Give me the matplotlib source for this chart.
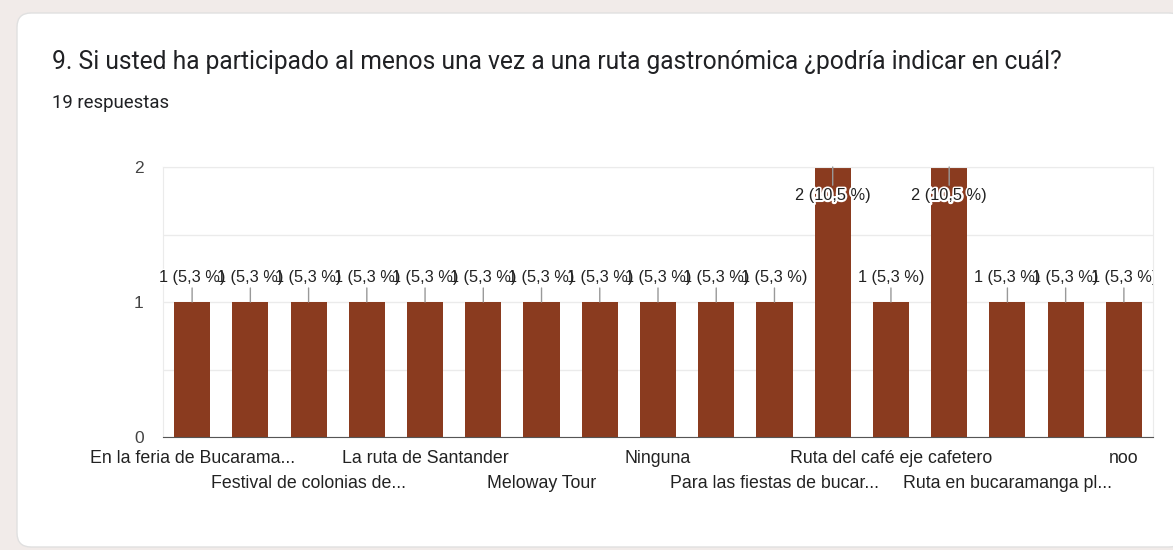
import matplotlib
matplotlib.use('Agg')
import matplotlib.pyplot as plt
import matplotlib.patheffects as pe
from matplotlib.patches import FancyBboxPatch, Rectangle

titulo = '9. Si usted ha participado al menos una vez a una ruta gastronómica ¿podría indicar en cuál?'
respuestas = 19
# solo se ven las etiquetas alternas, las demas quedan ocultas en el grafico
rutas = ['En la feria de Bucarama...', '', 'Festival de colonias de...', '',
         'La ruta de Santander', '', 'Meloway Tour', '', 'Ninguna', '',
         'Para las fiestas de bucar...', '', 'Ruta del café eje cafetero', '',
         'Ruta en bucaramanga pl...', '', 'noo']
conteo = [1, 1, 1, 1, 1, 1, 1, 1, 1, 1, 1, 2, 1, 2, 1, 1, 1]
ticks_y = [0, 1, 2]

W, H = 1173, 550
fig = plt.figure(figsize=(W / 100, H / 100), dpi=100)
fig.patch.set_facecolor('#f1ebe9')

# tarjeta blanca
card = FancyBboxPatch((17 / W, 3 / H), (W - 17 + 10) / W, (H - 13 - 3) / H,
                      boxstyle='round,pad=0,rounding_size=0.012',
                      transform=fig.transFigure, facecolor='white',
                      edgecolor='#e0e0e0', lw=1, mutation_aspect=W / H,
                      zorder=-5)
fig.patches.append(card)

fig.text(52 / W, 1 - 62 / H, titulo, fontsize=17.75, family='Roboto',
         color='#202124', va='center', ha='left')
fig.text(52 / W, 1 - 103 / H, f'{respuestas} respuestas', fontsize=13.4,
         family='Roboto', color='#202124', va='center', ha='left')

ax = fig.add_axes([163 / W, 113 / H, 990 / W, 270 / H])
ax.set_facecolor('white')
x = list(range(len(conteo)))
ax.bar(x, conteo, width=0.62, color='#8a3b1f', zorder=2)
ax.set_xlim(-0.5, len(conteo) - 0.5)
ax.set_ylim(0, 2)
ax.set_yticks(ticks_y)
ax.set_yticklabels([str(t) for t in ticks_y], family='Liberation Sans',
                   fontsize=12.5, color='#444444')
ax.set_yticks([0.5, 1.5], minor=True)
ax.tick_params(axis='y', which='both', length=0, pad=14)
ax.set_xticks([])
ax.grid(axis='y', which='both', color='#ebebeb', lw=1, zorder=0)
for s in ['left', 'right', 'top']:
    ax.spines[s].set_color('#ebebeb')
ax.spines['bottom'].set_color('#555555')
ax.spines['bottom'].set_zorder(3)

# etiquetas del eje x en dos filas
fila = 0
for i, r in enumerate(rutas):
    if not r:
        continue
    yy = -0.078 if fila % 2 == 0 else -0.174
    ax.text(i, yy, r, transform=ax.get_xaxis_transform(), ha='center',
            va='center', fontsize=12.8, family='Liberation Sans',
            color='#222222')
    fila += 1

# recorte solo por la derecha, como en el original
recorte = Rectangle((0, 0), 1153 / W, 1, transform=fig.transFigure)

# primero los halos blancos, luego el texto encima
for i, v in enumerate(conteo):
    pct = f'{v / respuestas * 100:.1f}'.replace('.', ',')
    etiqueta = f'{v} ({pct} %)'
    off = 17.5 if v == 1 else -20.5
    h = ax.annotate(etiqueta, xy=(i, v), xytext=(0, off),
                    textcoords='offset points', ha='center', va='center',
                    fontsize=11.8, family='Liberation Sans', color='white',
                    annotation_clip=False, zorder=4)
    h.set_path_effects([pe.withStroke(linewidth=3, foreground='white')])
    t = ax.annotate(etiqueta, xy=(i, v), xytext=(0, off),
                    textcoords='offset points', ha='center', va='center',
                    fontsize=11.8, family='Liberation Sans', color='#222222',
                    annotation_clip=False, zorder=5,
                    arrowprops=dict(arrowstyle='-', color='#999999', lw=1,
                                    shrinkA=0, shrinkB=0))
    h.set_clip_path(recorte)
    t.set_clip_path(recorte)

fig.savefig('out.png', dpi=100, facecolor=fig.get_facecolor())
